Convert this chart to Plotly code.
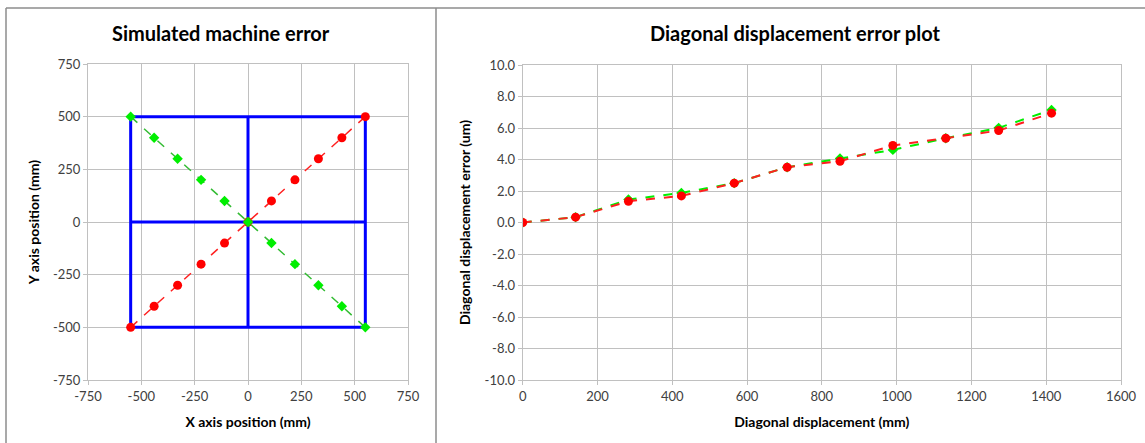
import plotly.graph_objects as go

W, H = 1145, 443

# ---- data: left chart (simulated machine error) ----
red_x = [-550, -440, -330, -220, -110, 0, 110, 220, 330, 440, 550]
red_y = [-500, -400, -300, -200, -100, 0, 100, 200, 300, 400, 500]
green_x = [-550, -440, -330, -220, -110, 0, 110, 220, 330, 440, 550]
green_y = [500, 400, 300, 200, 100, 0, -100, -200, -300, -400, -500]
grid_x = [-550, 550, 550, -550, -550, None, 0, 0, None, -550, 550]
grid_y = [-500, -500, 500, 500, -500, None, -500, 500, None, 0, 0]

# ---- data: right chart (diagonal displacement error) ----
diag = [0, 141.4, 282.8, 424.3, 565.7, 707.1, 848.5, 989.9, 1131.4, 1272.8, 1414.2]
err_green = [0.0, 0.34, 1.46, 1.88, 2.50, 3.51, 4.06, 4.61, 5.35, 6.01, 7.15]
err_red = [0.0, 0.34, 1.35, 1.69, 2.50, 3.51, 3.89, 4.89, 5.35, 5.84, 6.94]

left_ticks = [-750, -500, -250, 0, 250, 500, 750]
left_ticktext = ["-750", "-500", "-250", "0", "250", "500", "750"]
right_xticks = [0, 200, 400, 600, 800, 1000, 1200, 1400, 1600]
right_yticks = [-10, -8, -6, -4, -2, 0, 2, 4, 6, 8, 10]
right_yticktext = ["-10.0", "-8.0", "-6.0", "-4.0", "-2.0", "0.0",
                   "2.0", "4.0", "6.0", "8.0", "10.0"]

FONT = "Lato, Carlito, 'Open Sans', sans-serif"
GRID = "#c0c0c0"
TICKC = "#404040"

def px(x):
    return x / W

def py(y):
    return 1 - y / H

fig = go.Figure()

fig.add_trace(go.Scatter(x=grid_x, y=grid_y, mode="lines",
                         line=dict(color="#0000ff", width=3),
                         xaxis="x", yaxis="y", showlegend=False))
fig.add_trace(go.Scatter(x=red_x, y=red_y, mode="lines+markers",
                         line=dict(color="#ff2020", width=1.5, dash="dash"),
                         marker=dict(symbol="circle", size=9, color="#ff0000"),
                         xaxis="x", yaxis="y", showlegend=False))
fig.add_trace(go.Scatter(x=green_x, y=green_y, mode="lines+markers",
                         line=dict(color="#33bb33", width=1.5, dash="dash"),
                         marker=dict(symbol="diamond", size=8, color="#00ee00"),
                         xaxis="x", yaxis="y", showlegend=False))

fig.add_trace(go.Scatter(x=diag, y=err_green, mode="lines+markers",
                         line=dict(color="#00ee00", width=2, dash="dash"),
                         marker=dict(symbol="diamond", size=8, color="#00ee00"),
                         xaxis="x2", yaxis="y2", showlegend=False))
fig.add_trace(go.Scatter(x=diag, y=err_red, mode="lines+markers",
                         line=dict(color="#ff2020", width=2, dash="dash"),
                         marker=dict(symbol="circle", size=9, color="#ff0000"),
                         xaxis="x2", yaxis="y2", showlegend=False))

axis_common = dict(showgrid=True, gridcolor=GRID, gridwidth=1,
                   showline=True, linecolor=GRID, linewidth=1,
                   ticks="outside", ticklen=4, tickcolor=GRID,
                   tickfont=dict(family=FONT, size=13, color=TICKC),
                   zeroline=False, fixedrange=True, automargin=False)
title_font = dict(family=FONT, size=14, color="#000000")

fig.update_layout(
    width=W, height=H, autosize=False,
    margin=dict(l=0, r=0, t=0, b=0, pad=0, autoexpand=False),
    paper_bgcolor="white", plot_bgcolor="white",
    font=dict(family=FONT),
    xaxis=dict(domain=[px(88), px(408)], range=[-750, 750],
               tickvals=left_ticks, ticktext=left_ticktext,
               anchor="y", mirror=True,
               title=dict(text="<b>X axis position (mm)</b>", standoff=14, font=title_font),
               **axis_common),
    yaxis=dict(domain=[py(380), py(64)], range=[-750, 750],
               tickvals=left_ticks, ticktext=left_ticktext,
               anchor="x", mirror=True,
               title=dict(text="<b>Y axis position (mm)</b>", standoff=10, font=title_font),
               **axis_common),
    xaxis2=dict(domain=[px(522.7), px(1121)], range=[0, 1600], tickvals=right_xticks,
                anchor="y2", mirror=True,
                title=dict(text="<b>Diagonal displacement (mm)</b>", standoff=14, font=title_font),
                **axis_common),
    yaxis2=dict(domain=[py(380), py(65)], range=[-10, 10],
                tickvals=right_yticks, ticktext=right_yticktext,
                anchor="x2", mirror=True,
                title=dict(text="<b>Diagonal displacement error (um)</b>", standoff=10, font=title_font),
                **axis_common),
    annotations=[
        dict(text="<b>Simulated machine error</b>", x=px(221), y=py(33),
             xref="paper", yref="paper", showarrow=False,
             xanchor="center", yanchor="middle",
             font=dict(family=FONT, size=20, color="#000000")),
        dict(text="<b>Diagonal displacement error plot</b>", x=px(795), y=py(33),
             xref="paper", yref="paper", showarrow=False,
             xanchor="center", yanchor="middle",
             font=dict(family=FONT, size=20, color="#000000")),
    ],
    shapes=[
        dict(type="line", xref="paper", yref="paper", x0=px(6), x1=1, y0=py(8), y1=py(8),
             line=dict(color="#8c8c8c", width=1.5)),
        dict(type="line", xref="paper", yref="paper", x0=px(6), x1=px(6), y0=py(8), y1=0,
             line=dict(color="#8c8c8c", width=1.5)),
        dict(type="line", xref="paper", yref="paper", x0=px(436), x1=px(436), y0=py(8), y1=0,
             line=dict(color="#8c8c8c", width=1.5)),
    ],
)

fig.write_html("out.html", config={"displayModeBar": False},
               post_script="document.body.style.margin='0';document.body.style.overflow='hidden';")
